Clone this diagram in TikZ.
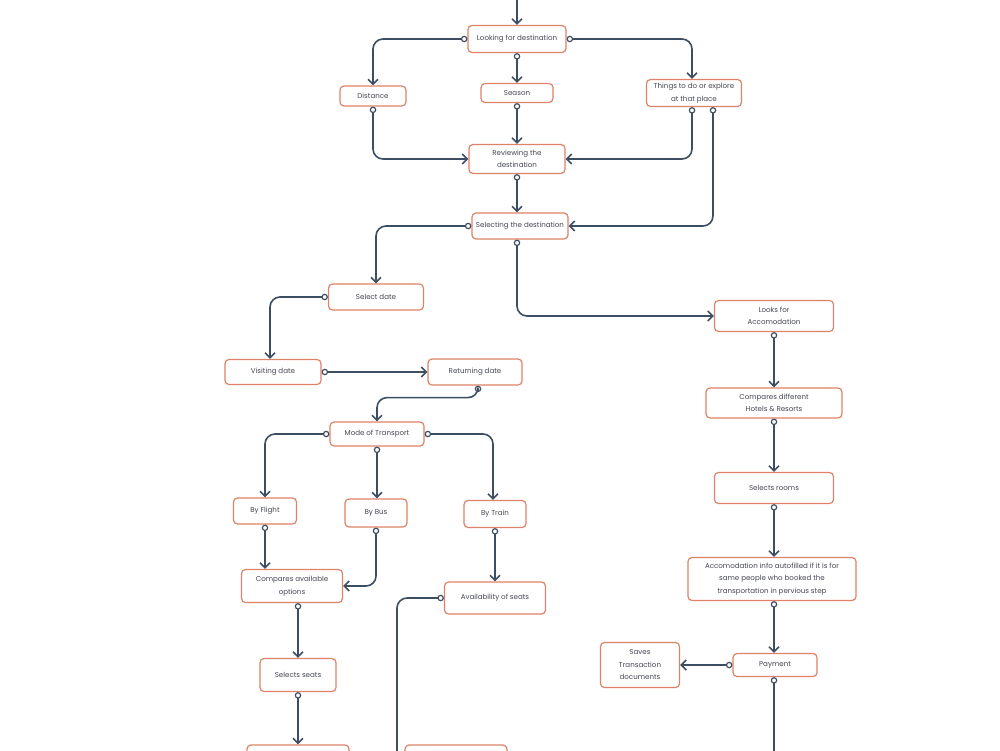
\documentclass[tikz,border=0pt]{standalone}
\usepackage{fontspec}
\setmainfont{Poppins}
\usepackage{xcolor}
\usetikzlibrary{arrows.meta, positioning, calc}
\definecolor{boxorange}{RGB}{222, 130, 104}
\definecolor{linegray}{RGB}{62, 78, 98}
\definecolor{textgray}{RGB}{70, 72, 84}

\begin{document}
\begin{tikzpicture}[x=1pt, y=-1pt,
    flowbox/.style={draw=boxorange, line width=1.2pt, rounded corners=4pt, fill=white,
        align=center, text=textgray, inner sep=1pt, font=\fontsize{7.1}{12.5}\selectfont},
    link/.style={draw=linegray, line width=1.6pt, rounded corners=10pt,
        {Circle[open, length=6.5pt, width=6.5pt, line width=1.2pt]}-{Straight Barb[length=5pt, width=10pt]}},
    inlink/.style={draw=linegray, line width=1.6pt, rounded corners=10pt, -{Straight Barb[length=5pt, width=10pt]}},
    outlink/.style={draw=linegray, line width=1.6pt, rounded corners=10pt, {Circle[open, length=6.5pt, width=6.5pt, line width=1.2pt]}-}]
    \useasboundingbox[fill=white] (0,0) rectangle (1000,750);
    \clip (0,0) rectangle (1000,750);

    % destination part
    \node[flowbox, minimum width=98, minimum height=27] (look) at (517,39) {Looking for destination};
    \node[flowbox, minimum width=66, minimum height=20] (dist) at (373,96) {Distance};
    \node[flowbox, minimum width=72, minimum height=19] (season) at (517,93) {Season};
    \node[flowbox, minimum width=95, minimum height=27] (things) at (694,93) {Things to do or explore\\at that place};
    \node[flowbox, minimum width=96, minimum height=29] (review) at (517,159) {Reviewing the\\destination};
    \node[flowbox, minimum width=96, minimum height=26] (select) at (520,226) {Selecting the destination};

    % dates and transport
    \node[flowbox, minimum width=95, minimum height=26] (seldate) at (376,297) {Select date};
    \node[flowbox, minimum width=96, minimum height=25] (visit) at (273,372) {Visiting date};
    \node[flowbox, minimum width=94, minimum height=26] (return) at (475,372) {Returning date};
    \node[flowbox, minimum width=94, minimum height=24] (mode) at (377,434) {Mode of Transport};
    \node[flowbox, minimum width=63, minimum height=26] (flight) at (265,511) {By Flight};
    \node[flowbox, minimum width=62, minimum height=28] (bus) at (376,513) {By Bus};
    \node[flowbox, minimum width=62, minimum height=27] (train) at (495,514) {By Train};
    \node[flowbox, minimum width=101, minimum height=33] (compare) at (292,586) {Compares available\\options};
    \node[flowbox, minimum width=101, minimum height=32] (avail) at (495,598) {Availability of seats};
    \node[flowbox, minimum width=76, minimum height=33] (seats) at (298,675) {Selects seats};
    \node[flowbox, minimum width=102, minimum height=34] (nextL) at (298,762) {};
    \node[flowbox, minimum width=102, minimum height=34] (nextR) at (456,762) {};

    % accomodation
    \node[flowbox, minimum width=119, minimum height=31] (accom) at (774,316) {Looks for\\Accomodation};
    \node[flowbox, minimum width=136, minimum height=30] (hotels) at (774,403) {Compares different\\Hotels \& Resorts};
    \node[flowbox, minimum width=119, minimum height=31] (rooms) at (774,488) {Selects rooms};
    \node[flowbox, minimum width=168, minimum height=43] (autofill) at (772,579) {Accomodation info autofilled if it is for\\same people who booked the\\transportation in pervious step};
    \node[flowbox, minimum width=84, minimum height=23] (pay) at (775,665) {Payment};
    \node[flowbox, minimum width=79, minimum height=45] (saves) at (640,665) {Saves\\Transaction\\documents};

    \coordinate (topin) at (517,-10);
    \coordinate (offA) at (397,770);
    \coordinate (offB) at (774,770);

    \draw[inlink] (topin) -- (look.north);
    \draw[link] (look.west) -| (dist.north);
    \draw[link] (look.south) -- (season.north);
    \draw[link] (look.east) -| ([xshift=-2]things.north);
    \draw[link] (dist.south) |- (review.west);
    \draw[link] (season.south) -- (review.north);
    \draw[link] ([xshift=-2]things.south) |- (review.east);
    \draw[link] ([xshift=19]things.south) |- (select.east);
    \draw[link] (review.south) -- (review.south |- select.north);
    \draw[link] (select.west) -| (seldate.north);
    \draw[link] (review.south |- select.south) |- (accom.west);

    \draw[link] (seldate.west) -| ([xshift=-3]visit.north);
    \draw[link] (visit.east) -- (return.west);
    \draw[link] ([xshift=3]return.south) -- ++(0,12) -| (mode.north);
    \draw[link] (mode.west) -| (flight.north);
    \draw[link] (mode.south) -- (mode.south |- bus.north);
    \draw[link] (mode.east) -| ([xshift=-2]train.north);
    \draw[link] (flight.south) -- (flight.south |- compare.north);
    \draw[link] (bus.south) |- (compare.east);
    \draw[link] (train.south) -- (avail.north);
    \draw[link] (seats.north |- compare.south) -- (seats.north);
    \draw[outlink] (avail.west) -| (offA);
    \draw[link] (seats.south) -- (nextL.north);

    \draw[link] (accom.south) -- (hotels.north);
    \draw[link] (hotels.south) -- (rooms.north);
    \draw[link] (rooms.south) -- (rooms.south |- autofill.north);
    \draw[link] (rooms.south |- autofill.south) -- (rooms.south |- pay.north);
    \draw[link] (pay.west) -- (saves.east);
    \draw[outlink] (rooms.south |- pay.south) -- (offB);
\end{tikzpicture}
\end{document}
